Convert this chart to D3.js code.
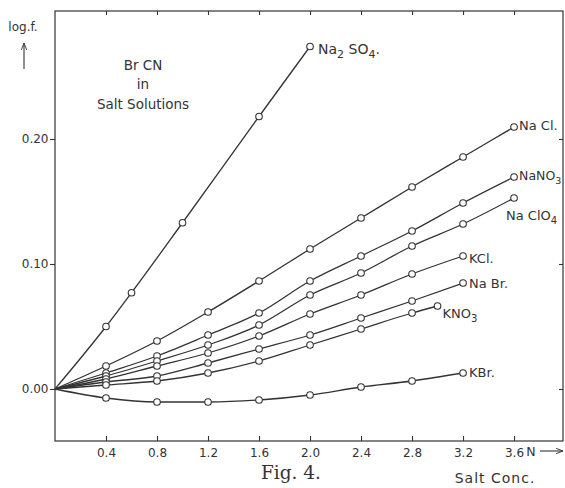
<!DOCTYPE html>
<html>
<head>
<meta charset="utf-8">
<script src="https://cdn.jsdelivr.net/npm/d3@7"></script>
<style>
  html, body { margin: 0; padding: 0; background: #ffffff; }
  svg { display: block; }
  text { font-family: "DejaVu Sans", sans-serif; fill: #333; }
</style>
</head>
<body>
<svg id="chart" width="565" height="488"></svg>
<script>
// ---------- data ----------
const xTicks = [0.4, 0.8, 1.2, 1.6, 2.0, 2.4, 2.8, 3.2, 3.6];
const yTicks = [0.00, 0.10, 0.20];

const concFull   = [0, 0.4, 0.8, 1.2, 1.6, 2.0, 2.4, 2.8, 3.2, 3.6];
const concTo32   = [0, 0.4, 0.8, 1.2, 1.6, 2.0, 2.4, 2.8, 3.2];
const concKNO3   = [0, 0.4, 0.8, 1.2, 1.6, 2.0, 2.4, 2.8, 3.0];
const concNa2SO4 = [0, 0.4, 0.6, 1.0, 1.6, 2.0];

const na2so4 = [0, 0.050, 0.077, 0.133, 0.218, 0.274];
const nacl   = [0, 0.0184, 0.0384, 0.0616, 0.0864, 0.112, 0.1368, 0.1616, 0.1856, 0.2096];
const nano3  = [0, 0.0128, 0.0264, 0.0432, 0.0608, 0.0864, 0.1064, 0.1264, 0.1488, 0.1696];
const naclo4 = [0, 0.0104, 0.0224, 0.0352, 0.0512, 0.0752, 0.0928, 0.1144, 0.1320, 0.1528];
const kcl    = [0, 0.0080, 0.0184, 0.0288, 0.0424, 0.0600, 0.0752, 0.0920, 0.1064];
const nabr   = [0, 0.0056, 0.0104, 0.0208, 0.0320, 0.0432, 0.0568, 0.0704, 0.0848];
const kno3   = [0, 0.0032, 0.0064, 0.0128, 0.0224, 0.0352, 0.0480, 0.0608, 0.0664];
const kbr    = [0, -0.0072, -0.0104, -0.0104, -0.0088, -0.0048, 0.0016, 0.0064, 0.0128];

const seriesNames = ["Na2 SO4.", "Na Cl.", "NaNO3", "Na ClO4", "KCl.", "Na Br.", "KNO3", "KBr."];
const seriesX = [concNa2SO4, concFull, concFull, concFull, concTo32, concTo32, concKNO3, concTo32];
const seriesY = [na2so4, nacl, nano3, naclo4, kcl, nabr, kno3, kbr];

// ---------- layout ----------
const labelOffset = [[8, 7], [5, 3], [5, 3], [-8, 22], [6, 7], [6, 5], [5, 12], [6, 4]];
const labelSize   = [14, 13, 12.5, 13, 13, 13, 13, 13];

const svg = d3.select("#chart");
const x = d3.scaleLinear().domain([0, 3.984]).range([55, 563]);
const y = d3.scaleLinear().domain([-0.0416, 0.3024]).range([441, 11]);
const ink = "#333";

// frame
svg.append("rect")
  .attr("x", x(0)).attr("y", y.range()[1])
  .attr("width", x.range()[1] - x(0)).attr("height", y.range()[0] - y.range()[1])
  .attr("fill", "none").attr("stroke", ink).attr("stroke-width", 1.2);

function styleAxis(g) {
  g.select(".domain").remove();
  g.selectAll(".tick line").attr("stroke", ink).attr("stroke-width", 1.1);
  g.selectAll(".tick text").attr("fill", ink).style("font-family", "DejaVu Sans, sans-serif");
}

// bottom axis: inward ticks with labels
svg.append("g").attr("transform", `translate(0,${y.range()[0]})`)
  .call(d3.axisBottom(x).tickValues(xTicks).tickSize(-5).tickPadding(7).tickFormat(d3.format(".1f")))
  .call(styleAxis)
  .call(g => g.selectAll(".tick text").style("font-size", "12px"));

// top axis: inward ticks only
svg.append("g").attr("transform", `translate(0,${y.range()[1]})`)
  .call(d3.axisTop(x).tickValues(xTicks).tickSize(-4).tickFormat(""))
  .call(styleAxis);

// left axis: outward ticks with labels
svg.append("g").attr("transform", `translate(${x(0)},0)`)
  .call(d3.axisLeft(y).tickValues(yTicks).tickSize(5).tickPadding(1.5).tickFormat(d3.format(".2f")))
  .call(styleAxis)
  .call(g => g.selectAll(".tick text").style("font-size", "12px"));

// right axis: inward ticks only
svg.append("g").attr("transform", `translate(${x.range()[1]},0)`)
  .call(d3.axisRight(y).tickValues(yTicks).tickSize(-4).tickFormat(""))
  .call(styleAxis);

// arrows
const defs = svg.append("defs");
defs.append("marker").attr("id", "arr").attr("viewBox", "0 0 10 10")
  .attr("refX", 9).attr("refY", 5).attr("markerWidth", 7).attr("markerHeight", 7)
  .attr("orient", "auto")
  .append("path").attr("d", "M0,1.5 L9,5 L0,8.5").attr("fill", "none").attr("stroke", ink).attr("stroke-width", 1.2);

svg.append("line").attr("x1", 24).attr("y1", 69).attr("x2", 24).attr("y2", 43)
  .attr("stroke", ink).attr("stroke-width", 1.1).attr("marker-end", "url(#arr)");
svg.append("line").attr("x1", 540).attr("y1", 451).attr("x2", 563).attr("y2", 451)
  .attr("stroke", ink).attr("stroke-width", 1.1).attr("marker-end", "url(#arr)");

// axis titles
svg.append("text").attr("x", 23).attr("y", 31).attr("text-anchor", "middle")
  .style("font-size", "12px").text("log.f.");
svg.append("text").attr("x", 531).attr("y", 456).attr("text-anchor", "middle")
  .style("font-size", "12.5px").text("N");
svg.append("text").attr("x", 495).attr("y", 483).attr("text-anchor", "middle")
  .style("font-size", "14px").style("letter-spacing", "1px").text("Salt Conc.");
svg.append("text").attr("x", 291).attr("y", 479).attr("text-anchor", "middle")
  .style("font-family", "DejaVu Serif, serif").style("font-size", "18.5px").text("Fig. 4.");

// inset title
[["Br CN", 70], ["in", 89], ["Salt Solutions", 109]].forEach(([t, yy]) => {
  svg.append("text").attr("x", 143).attr("y", yy).attr("text-anchor", "middle")
    .style("font-size", "13.5px").text(t);
});

// series
const line = d3.line().x(d => x(d[0])).y(d => y(d[1])).curve(d3.curveMonotoneX);

seriesNames.forEach((name, i) => {
  const pts = seriesX[i].map((c, j) => [c, seriesY[i][j]]);
  svg.append("path").datum(pts).attr("d", line)
    .attr("fill", "none").attr("stroke", ink).attr("stroke-width", 1.3);
  svg.append("g").selectAll("circle").data(pts.filter(p => p[0] > 0)).join("circle")
    .attr("cx", d => x(d[0])).attr("cy", d => y(d[1])).attr("r", 3.3)
    .attr("fill", "#fff").attr("stroke", ink).attr("stroke-width", 1.1);

  const last = pts[pts.length - 1];
  const t = svg.append("text")
    .attr("x", x(last[0]) + labelOffset[i][0])
    .attr("y", y(last[1]) + labelOffset[i][1])
    .style("font-size", labelSize[i] + "px");
  // digits rendered as subscripts
  let shifted = false;
  name.split(/(\d)/).filter(s => s.length).forEach(part => {
    if (/^\d$/.test(part)) {
      t.append("tspan").attr("dy", 4).style("font-size", (labelSize[i] - 3) + "px").text(part);
      shifted = true;
    } else {
      t.append("tspan").attr("dy", shifted ? -4 : 0).text(part);
      shifted = false;
    }
  });
});
</script>
</body>
</html>
